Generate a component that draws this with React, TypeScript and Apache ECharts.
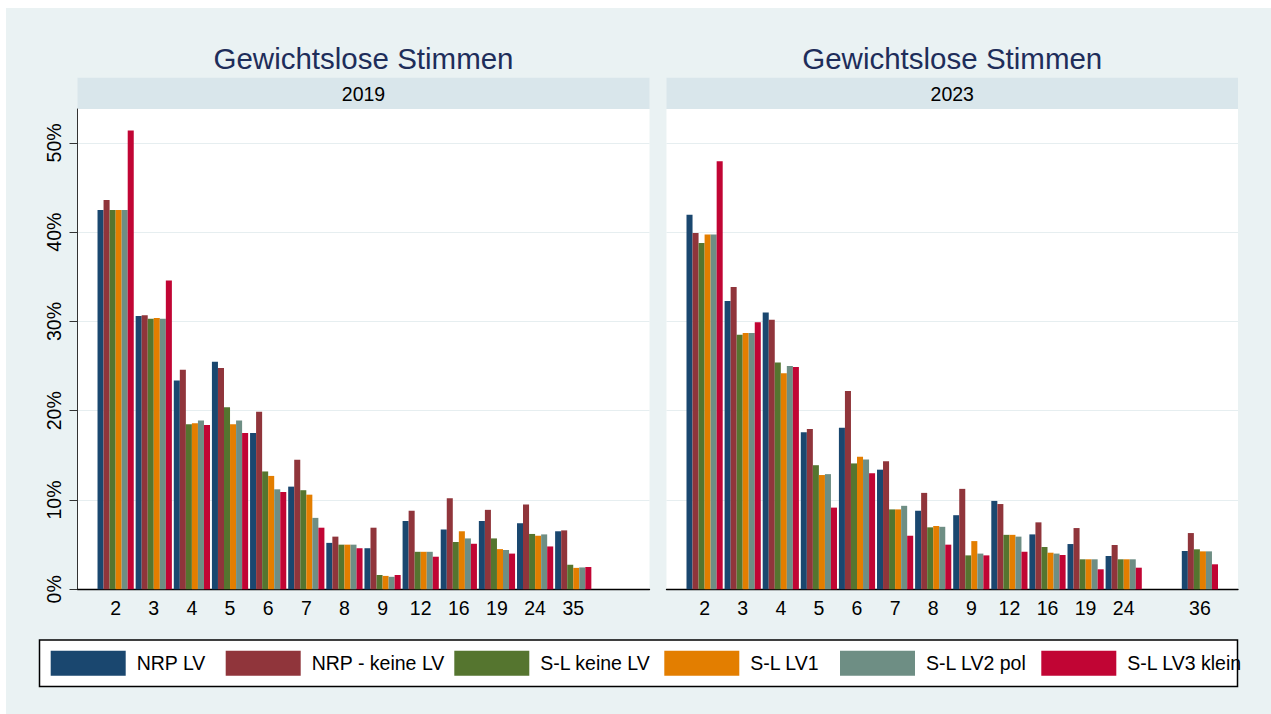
import React, { useEffect, useRef } from "react";
import * as echarts from "echarts";

const CATEGORIES = ["2", "3", "4", "5", "6", "7", "8", "9", "12", "16", "19", "24", "35", "36"];
const SERIES_NAMES = ["NRP LV", "NRP - keine LV", "S-L keine LV", "S-L LV1", "S-L LV2 pol", "S-L LV3 klein"];
const COLORS = ["#1A476F", "#90353B", "#55752F", "#E37E00", "#6E8E84", "#C10534"];
const PANELS = ["2019", "2023"];
const TITLE = "Gewichtslose Stimmen";
const Y_TICKS = [0, 10, 20, 30, 40, 50];

// 2019 values (%), null = category not present
const NRP_LV_2019 = [42.5, 30.6, 23.4, 25.5, 17.5, 11.5, 5.2, 4.6, 7.65, 6.7, 7.65, 7.4, 6.5, null];
const NRP_KEINE_2019 = [43.6, 30.7, 24.6, 24.8, 19.9, 14.5, 5.9, 6.9, 8.8, 10.2, 8.9, 9.5, 6.6, null];
const SL_KEINE_2019 = [42.5, 30.3, 18.5, 20.4, 13.2, 11.1, 5.0, 1.6, 4.2, 5.3, 5.7, 6.2, 2.75, null];
const SL_LV1_2019 = [42.5, 30.4, 18.6, 18.5, 12.7, 10.6, 5.0, 1.5, 4.2, 6.5, 4.5, 6.0, 2.4, null];
const SL_LV2_2019 = [42.5, 30.3, 18.9, 18.9, 11.2, 8.0, 5.0, 1.4, 4.2, 5.7, 4.4, 6.15, 2.45, null];
const SL_LV3_2019 = [51.4, 34.6, 18.4, 17.5, 10.9, 6.9, 4.6, 1.6, 3.65, 5.1, 4.0, 4.8, 2.5, null];

// 2023 values (%)
const NRP_LV_2023 = [41.95, 32.3, 31.0, 17.6, 18.1, 13.4, 8.8, 8.3, 9.9, 6.15, 5.07, 3.73, null, 4.29];
const NRP_KEINE_2023 = [39.9, 33.85, 30.2, 17.95, 22.2, 14.35, 10.8, 11.25, 9.55, 7.5, 6.86, 4.96, null, 6.3];
const SL_KEINE_2023 = [38.8, 28.5, 25.4, 13.9, 14.1, 8.95, 6.94, 3.8, 6.1, 4.74, 3.36, 3.36, null, 4.48];
const SL_LV1_2023 = [39.75, 28.7, 24.2, 12.8, 14.85, 8.95, 7.09, 5.4, 6.1, 4.1, 3.36, 3.36, null, 4.25];
const SL_LV2_2023 = [39.75, 28.7, 25.0, 12.9, 14.55, 9.35, 7.0, 4.0, 5.9, 4.0, 3.36, 3.36, null, 4.25];
const SL_LV3_2023 = [47.96, 29.9, 24.9, 9.15, 13.0, 6.0, 5.0, 3.8, 4.2, 3.84, 2.24, 2.42, null, 2.8];

const DATA_2019 = [NRP_LV_2019, NRP_KEINE_2019, SL_KEINE_2019, SL_LV1_2019, SL_LV2_2019, SL_LV3_2019];
const DATA_2023 = [NRP_LV_2023, NRP_KEINE_2023, SL_KEINE_2023, SL_LV1_2023, SL_LV2_2023, SL_LV3_2023];

const FONT = "'Liberation Sans', Arial, Helvetica, sans-serif";

export default function App() {
  const ref = useRef<HTMLDivElement>(null);

  useEffect(() => {
    document.body.style.margin = "0";
    if (!ref.current) return;
    const chart = echarts.init(ref.current, null, { renderer: "svg" });

    const panelData = [DATA_2019, DATA_2023];
    const grids = [
      { left: 77.5, top: 109, width: 572, height: 480.3 },
      { left: 666.5, top: 109, width: 571.5, height: 480.3 },
    ];
    const axisCats = [" ", ...CATEGORIES, "  "];

    const xAxes = grids.map((_, p) => {
      const data = panelData[p];
      return {
        type: "category",
        gridIndex: p,
        data: axisCats,
        boundaryGap: false,
        axisLine: { show: true, lineStyle: { color: "#000", width: 1.3 } },
        axisTick: { show: false },
        axisLabel: {
          interval: 0,
          margin: 9,
          fontSize: 19.5,
          fontFamily: FONT,
          color: "#000",
          formatter: (v: string, i: number) => {
            const ci = i - 1;
            if (ci < 0 || ci >= CATEGORIES.length) return "";
            const has = data.some((arr) => arr[ci] !== null && arr[ci] !== undefined);
            return has ? v : "";
          },
        },
        splitLine: { show: false },
      };
    });

    const yAxes = grids.map((_, p) => ({
      type: "value",
      gridIndex: p,
      min: 0,
      max: 53.8,
      interval: 10,
      axisLine: { show: p === 0, lineStyle: { color: "#333", width: 1 } },
      axisTick: { show: p === 0, length: 8, customValues: Y_TICKS, lineStyle: { color: "#333", width: 1 } },
      axisLabel: {
        show: p === 0,
        rotate: 90,
        margin: 14,
        fontSize: 19.5,
        fontFamily: FONT,
        color: "#000",
        customValues: Y_TICKS,
        formatter: (v: number) => (Y_TICKS.includes(Math.round(v * 1000) / 1000) ? `${v}%` : ""),
      },
      splitLine: { show: true, lineStyle: { color: "#E6EEF0", width: 1.2 } },
    }));

    const series: any[] = [];
    panelData.forEach((pd, p) => {
      pd.forEach((arr, s) => {
        series.push({
          type: "bar",
          name: SERIES_NAMES[s],
          xAxisIndex: p,
          yAxisIndex: p,
          data: [null, ...arr, null],
          barGap: "0%",
          barCategoryGap: "5%",
          itemStyle: { color: COLORS[s] },
          emphasis: { disabled: true },
        });
      });
    });

    const legendLefts = [50.7, 225.7, 454.3, 664.3, 840, 1041.3];
    const legends = SERIES_NAMES.map((n, i) => ({
      data: [n],
      left: legendLefts[i],
      top: 650.7,
      padding: 0,
      itemGap: 0,
      itemWidth: 75,
      itemHeight: 25,
      icon: "rect",
      selectedMode: false,
      z: 10,
      textStyle: { fontSize: 19.5, fontFamily: FONT, color: "#000", padding: [0, 0, 0, 6] },
    }));

    const centers = grids.map((g) => g.left + g.width / 2);

    const graphic: any[] = [
      {
        type: "rect",
        z: -10,
        silent: true,
        shape: { x: 6, y: 8, width: 1265, height: 706 },
        style: { fill: "#EAF2F3" },
      },
      ...grids.map((g) => ({
        type: "rect",
        z: -5,
        silent: true,
        shape: { x: g.left, y: 77.7, width: g.width, height: 31.3 },
        style: { fill: "#D9E6EB" },
      })),
      ...PANELS.map((t, p) => ({
        type: "text",
        z: 5,
        silent: true,
        x: centers[p],
        y: 93.5,
        style: {
          text: t,
          align: "center",
          verticalAlign: "middle",
          fontSize: 19.5,
          fontFamily: FONT,
          fill: "#000",
        },
      })),
      ...PANELS.map((_, p) => ({
        type: "text",
        z: 5,
        silent: true,
        x: centers[p],
        y: 58.5,
        style: {
          text: TITLE,
          align: "center",
          verticalAlign: "middle",
          fontSize: 29.5,
          fontFamily: FONT,
          fill: "#1E2D5A",
        },
      })),
      {
        type: "rect",
        z: 1,
        silent: true,
        shape: { x: 39.5, y: 640, width: 1198, height: 46.5 },
        style: { fill: "#fff", stroke: "#000", lineWidth: 1.5 },
      },
    ];

    chart.setOption({
      animation: false,
      backgroundColor: "#fff",
      textStyle: { fontFamily: FONT },
      grid: grids.map((g) => ({ ...g, show: true, backgroundColor: "#fff", borderWidth: 0, containLabel: false })),
      xAxis: xAxes,
      yAxis: yAxes,
      legend: legends,
      series,
      graphic,
    });

    return () => chart.dispose();
  }, []);

  return <div ref={ref} style={{ width: 1271, height: 714 }} />;
}
